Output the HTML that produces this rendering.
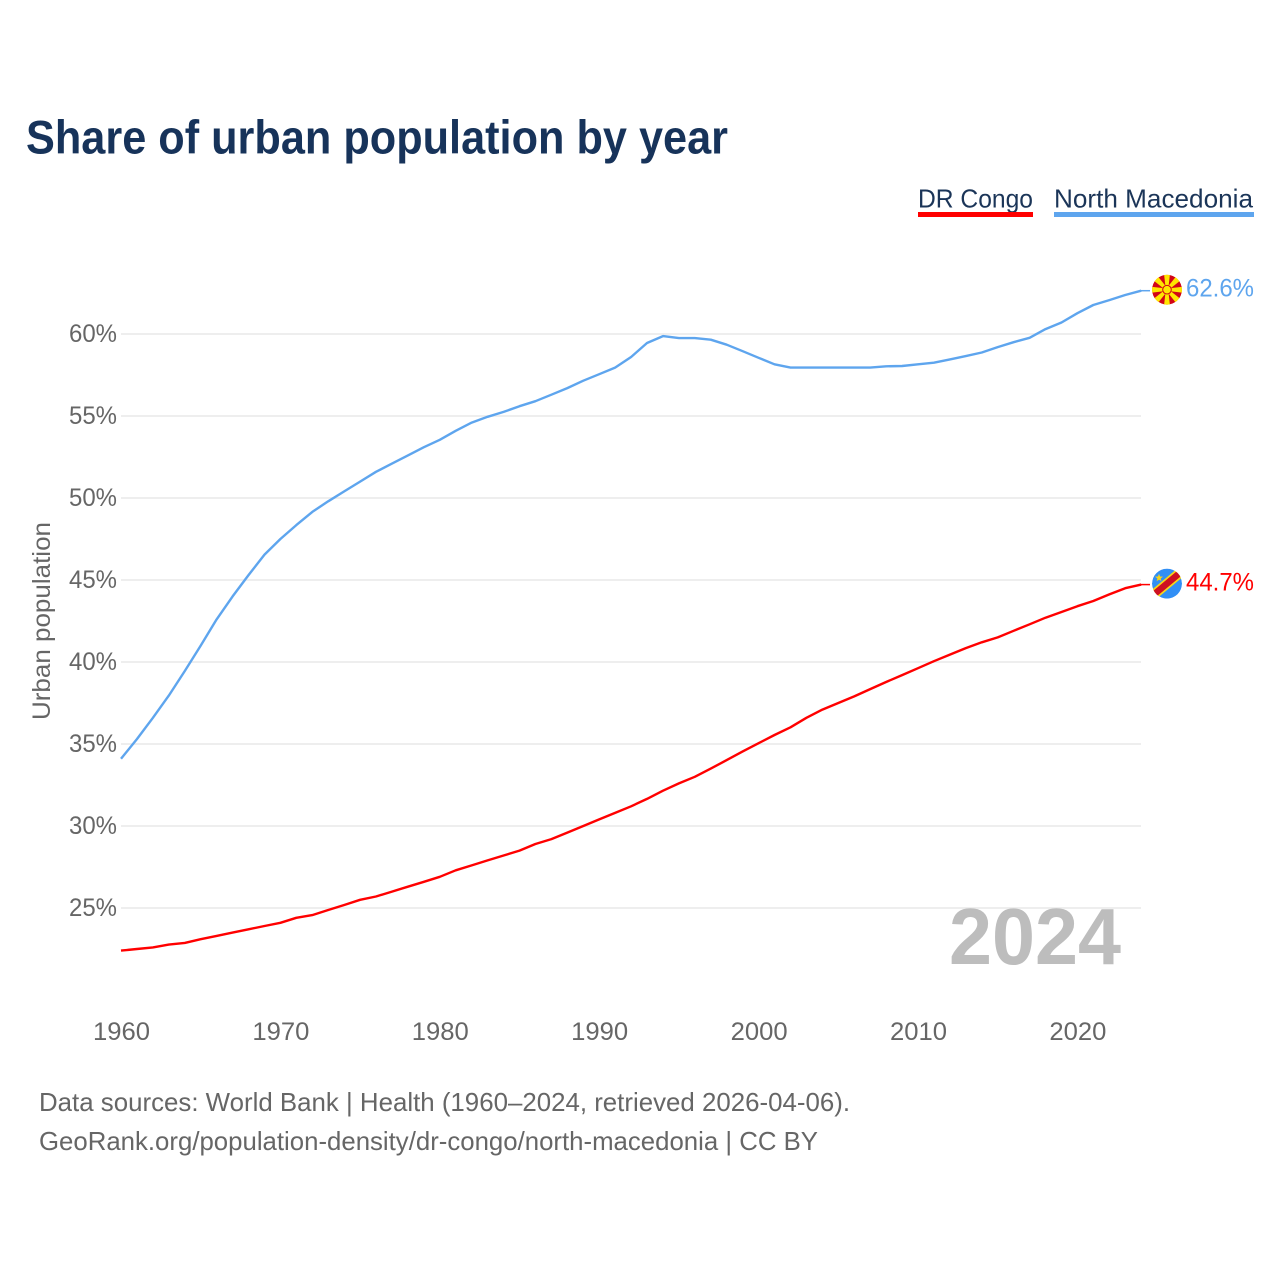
<!DOCTYPE html>
<html lang="en">
<head>
<meta charset="utf-8">
<title>Share of urban population by year</title>
<style>
html,body{margin:0;padding:0;background:#fff;width:1280px;height:1280px;overflow:hidden}
svg{display:block}
text{font-family:"Liberation Sans",sans-serif}
</style>
</head>
<body>
<svg id="chart" xmlns="http://www.w3.org/2000/svg" width="1280" height="1280" viewBox="0 0 1280 1280">
  <defs>
    <clipPath id="flag-clip"><circle cx="0" cy="0" r="15"/></clipPath>
  </defs>
  <rect width="1280" height="1280" fill="#fff"/>
  <text x="26" y="153.5" font-size="47" font-weight="700" fill="#17335a" textLength="702" lengthAdjust="spacingAndGlyphs">Share of urban population by year</text>

  <g>
    <text x="918" y="207.5" font-size="26" fill="#1b3558" textLength="115" lengthAdjust="spacingAndGlyphs">DR Congo</text>
    <rect x="918" y="212" width="115" height="5" fill="#ff0000"/>
  </g>
  <g>
    <text x="1054" y="207.5" font-size="26" fill="#1b3558" textLength="199" lengthAdjust="spacingAndGlyphs">North Macedonia</text>
    <rect x="1054" y="212" width="200" height="5" fill="#5ea5ee"/>
  </g>

  <g id="grid"></g>
  <g id="yticks"></g>
  <g id="xticks"></g>

  <text transform="translate(50,621) rotate(-90)" text-anchor="middle" font-size="25" fill="#666" textLength="198" lengthAdjust="spacingAndGlyphs">Urban population</text>

  <text x="949" y="964" font-size="80" font-weight="700" fill="#bdbdbd" textLength="172" lengthAdjust="spacingAndGlyphs">2024</text>

  <g id="series"></g>

  <g id="flag-mk">
    <g clip-path="url(#flag-clip)">
      <circle r="15" fill="#d20516"/>
      <g fill="#ffe600">
        <polygon points="-1.2,0 1.2,0 3,-16 -3,-16"/>
        <polygon points="-1.2,0 1.2,0 3,-16 -3,-16" transform="rotate(45)"/>
        <polygon points="-1.2,0 1.2,0 3,-16 -3,-16" transform="rotate(90)"/>
        <polygon points="-1.2,0 1.2,0 3,-16 -3,-16" transform="rotate(135)"/>
        <polygon points="-1.2,0 1.2,0 3,-16 -3,-16" transform="rotate(180)"/>
        <polygon points="-1.2,0 1.2,0 3,-16 -3,-16" transform="rotate(225)"/>
        <polygon points="-1.2,0 1.2,0 3,-16 -3,-16" transform="rotate(270)"/>
        <polygon points="-1.2,0 1.2,0 3,-16 -3,-16" transform="rotate(315)"/>
      </g>
      <circle r="4.8" fill="#d20516"/>
      <circle r="3.8" fill="#ffe600"/>
    </g>
  </g>

  <g id="flag-cd">
    <g clip-path="url(#flag-clip)">
      <circle r="15" fill="#318ff5"/>
      <line x1="-18" y1="15" x2="18" y2="-15" stroke="#f7d618" stroke-width="10"/>
      <line x1="-18" y1="15" x2="18" y2="-15" stroke="#ce1021" stroke-width="6.5"/>
      <polygon points="-8,-10 -6.7,-6.6 -3,-6.5 -5.9,-4.2 -4.9,-0.7 -8,-2.7 -11,-0.7 -10,-4.2 -13,-6.5 -9.3,-6.6" fill="#f7d618" transform="translate(0,-1) scale(0.8) translate(-2,-1)"/>
    </g>
  </g>

  <g>
    <text x="39" y="1111" font-size="26" fill="#666" textLength="811" lengthAdjust="spacingAndGlyphs">Data sources: World Bank | Health (1960–2024, retrieved 2026-04-06).</text>
    <text x="39" y="1150" font-size="26" fill="#666" textLength="779" lengthAdjust="spacingAndGlyphs">GeoRank.org/population-density/dr-congo/north-macedonia | CC BY</text>
  </g>
</svg>
<script>
const years = [1960,1961,1962,1963,1964,1965,1966,1967,1968,1969,1970,1971,1972,1973,1974,1975,1976,1977,1978,1979,1980,1981,1982,1983,1984,1985,1986,1987,1988,1989,1990,1991,1992,1993,1994,1995,1996,1997,1998,1999,2000,2001,2002,2003,2004,2005,2006,2007,2008,2009,2010,2011,2012,2013,2014,2015,2016,2017,2018,2019,2020,2021,2022,2023,2024];
const northMacedonia = [34.1,35.3,36.6,37.95,39.45,41.0,42.6,44.0,45.3,46.55,47.5,48.35,49.15,49.8,50.4,51.0,51.6,52.1,52.6,53.1,53.55,54.1,54.6,54.95,55.25,55.6,55.9,56.3,56.7,57.15,57.55,57.95,58.6,59.45,59.87,59.75,59.75,59.65,59.35,58.95,58.55,58.15,57.95,57.95,57.95,57.95,57.95,57.95,58.03,58.05,58.15,58.25,58.45,58.65,58.87,59.2,59.5,59.77,60.3,60.7,61.27,61.77,62.07,62.38,62.64];
const drCongo = [22.4,22.5,22.6,22.77,22.87,23.1,23.3,23.5,23.7,23.9,24.1,24.4,24.57,24.88,25.18,25.5,25.7,26.0,26.3,26.6,26.9,27.3,27.6,27.9,28.2,28.5,28.9,29.2,29.6,30.0,30.4,30.8,31.2,31.65,32.15,32.6,33.0,33.5,34.02,34.55,35.05,35.55,36.02,36.6,37.1,37.5,37.9,38.35,38.78,39.2,39.62,40.05,40.45,40.85,41.2,41.5,41.9,42.3,42.7,43.05,43.4,43.72,44.12,44.5,44.72];
const yTickValues = [25,30,35,40,45,50,55,60];
const yTickLabels = ["25%","30%","35%","40%","45%","50%","55%","60%"];
const xTickValues = [1960,1970,1980,1990,2000,2010,2020];
const xTickLabels = ["1960","1970","1980","1990","2000","2010","2020"];

const SVG_NS = "http://www.w3.org/2000/svg";
const xScale = function (yr) { return 121 + (yr - 1960) * 15.94; };
const yScale = function (v) { return 334 + (60 - v) * 16.4; };
const plotRight = 1141;

function make(parent, tag, attrs, txt) {
  const el = document.createElementNS(SVG_NS, tag);
  Object.keys(attrs).forEach(function (k) { el.setAttribute(k, attrs[k]); });
  if (txt !== undefined) el.textContent = txt;
  parent.appendChild(el);
  return el;
}

const gridG = document.getElementById("grid");
const yG = document.getElementById("yticks");
const xG = document.getElementById("xticks");
const seriesG = document.getElementById("series");

yTickValues.forEach(function (v, i) {
  const y = yScale(v);
  const line = make(gridG, "line", { x1: 121, x2: plotRight, y1: y, y2: y, stroke: "#eeeeee", "stroke-width": 2 });
  
  
  const label = make(yG, "text", { x: 69, y: y + 8, "font-size": 25, fill: "#666", textLength: 48, lengthAdjust: "spacingAndGlyphs" }, yTickLabels[i]);
  
  
});

xTickValues.forEach(function (yr, i) {
  const label = make(xG, "text", { x: xScale(yr) - 28, y: 1040, "font-size": 25, fill: "#666", textLength: 57, lengthAdjust: "spacingAndGlyphs" }, xTickLabels[i]);
  
  
});

function drawSeries(values, color, name, flagId) {
  const pts = values.map(function (v, i) { return xScale(years[i]).toFixed(1) + "," + yScale(v).toFixed(1); });
  const lastV = values[values.length - 1];
  const lastY = yScale(lastV);
  const line = make(seriesG, "polyline", { points: pts.join(" "), fill: "none", stroke: color, "stroke-width": 2.4, "stroke-linejoin": "round" });
  
  
  const stub = make(seriesG, "line", { x1: plotRight, x2: 1150, y1: lastY, y2: lastY, stroke: color, "stroke-width": 1.5 });
  
  
  const label = make(seriesG, "text", { x: 1186, y: lastY + 6, "font-size": 25, fill: color, textLength: 68, lengthAdjust: "spacingAndGlyphs" }, lastV.toFixed(1) + "%");
  
  
  document.getElementById(flagId).setAttribute("transform", "translate(1167," + (lastY - 1).toFixed(1) + ")");
}

drawSeries(northMacedonia, "#5ea5ee", "north-macedonia", "flag-mk");
drawSeries(drCongo, "#ff0000", "dr-congo", "flag-cd");
</script>
</body>
</html>
